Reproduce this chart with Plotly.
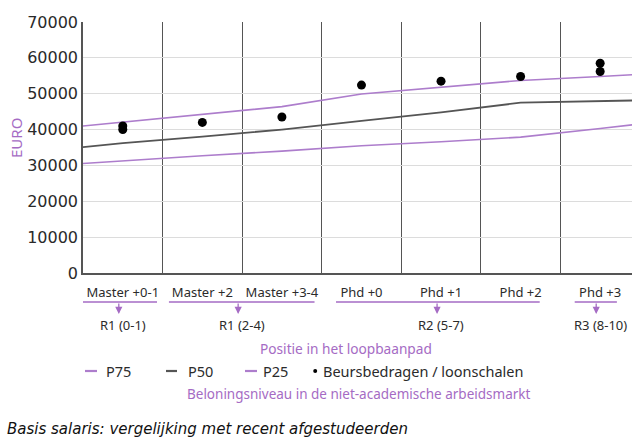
import plotly.graph_objects as go

# Career positions along the x axis
categories = ["Master +0-1", "Master +2", "Master +3-4", "Phd +0", "Phd +1", "Phd +2", "Phd +3"]

# Salary scale amounts (some positions have two amounts)
beurs_x = [0, 0, 1, 2, 3, 4, 5, 6, 6]
beurs_y = [41000, 40000, 42000, 43500, 52400, 53500, 54800, 58500, 56200]

# Non-academic market percentiles, from the left edge through each position to the right edge
line_x = [-0.5, 0, 1, 2, 3, 4, 5, 6, 6.5]
p75 = [41000, 42100, 44200, 46400, 49900, 51900, 53700, 54800, 55400]
p50 = [35100, 36200, 38050, 40000, 42400, 44800, 47500, 47950, 48150]
p25 = [30550, 31300, 32700, 34000, 35500, 36600, 37900, 40300, 41550]

y_ticks = [0, 10000, 20000, 30000, 40000, 50000, 60000, 70000]

# Grade groups under the position labels
groups = ["R1 (0-1)", "R1 (2-4)", "R2 (5-7)", "R3 (8-10)"]
group_center = [0, 1.5, 4, 6]
# underline extents (axis units)
group_span = [(-0.5, 0.43), (0.58, 2.41), (2.68, 5.24), (5.68, 6.21)]

PURPLE = "#a56bc4"
LINE_PURPLE = "#ad7dcc"
GREY = "#555555"
TXT = "#2b2b2b"
FONT = "Noto Sans"

fig = go.Figure()
fig.add_trace(go.Scatter(x=line_x, y=p75, mode="lines", name="P75",
                         line=dict(color=LINE_PURPLE, width=1.6)))
fig.add_trace(go.Scatter(x=line_x, y=p50, mode="lines", name="P50",
                         line=dict(color=GREY, width=1.8)))
fig.add_trace(go.Scatter(x=line_x, y=p25, mode="lines", name="P25",
                         line=dict(color=LINE_PURPLE, width=1.6)))
fig.add_trace(go.Scatter(x=beurs_x, y=beurs_y, mode="markers",
                         name="Beursbedragen / loonschalen",
                         marker=dict(color="black", size=9)))

H_PLOT = 439 - 22 - 166
W_PLOT = 632 - 83


def py(px):
    """pixel row (from top of page) -> paper y"""
    return (439 - 166 - px) / H_PLOT


def pxx(px):
    """pixel column -> paper x"""
    return (px - 83) / W_PLOT


annotations = []
shapes = []

# group underlines, arrows and grade labels
for name, c, (a, b) in zip(groups, group_center, group_span):
    shapes.append(dict(type="line", xref="x", yref="paper", x0=a, x1=b,
                       y0=py(302), y1=py(302), line=dict(color=PURPLE, width=1.6)))
    annotations.append(dict(x=c - 0.05, y=py(314), xref="x", yref="paper", text="",
                            showarrow=True, ax=0, ay=-12, arrowhead=2, arrowsize=1.1,
                            arrowwidth=1.3, arrowcolor=PURPLE))
    annotations.append(dict(x=c, y=py(325), xref="x", yref="paper", text=name,
                            showarrow=False, font=dict(family=FONT, size=13, color=TXT),
                            xanchor="center", yanchor="middle"))

annotations.append(dict(x=pxx(346), y=py(348), xref="paper", yref="paper",
                        text="Positie in het loopbaanpad", showarrow=False,
                        font=dict(family=FONT, size=13.7, color=PURPLE),
                        xanchor="center", yanchor="middle"))

# key row: short line swatches, a dot, and labels
key_lines = [(85, 97, LINE_PURPLE, "P75", 104), (166, 177, GREY, "P50", 186),
             (245, 257, LINE_PURPLE, "P25", 261)]
for x0, x1, col, label, tx in key_lines:
    shapes.append(dict(type="line", xref="paper", yref="paper", x0=pxx(x0), x1=pxx(x1),
                       y0=py(371), y1=py(371), line=dict(color=col, width=2.2)))
    annotations.append(dict(x=pxx(tx), y=py(371), xref="paper", yref="paper", text=label,
                            showarrow=False, font=dict(family=FONT, size=14.5, color=TXT),
                            xanchor="left", yanchor="middle"))
shapes.append(dict(type="circle", xref="paper", yref="paper",
                   x0=pxx(313.2), x1=pxx(317.2), y0=py(373), y1=py(369),
                   fillcolor="black", line=dict(width=0)))
annotations.append(dict(x=pxx(321), y=py(371), xref="paper", yref="paper",
                        text="Beursbedragen / loonschalen", showarrow=False,
                        font=dict(family=FONT, size=14.5, color=TXT),
                        xanchor="left", yanchor="middle"))

annotations.append(dict(x=pxx(358), y=py(394), xref="paper", yref="paper",
                        text="Beloningsniveau in de niet-academische arbeidsmarkt",
                        showarrow=False, font=dict(family=FONT, size=13.5, color=PURPLE),
                        xanchor="center", yanchor="middle"))

annotations.append(dict(x=pxx(5), y=py(429), xref="paper", yref="paper",
                        text="<i>Basis salaris: vergelijking met recent afgestudeerden</i>",
                        showarrow=False, font=dict(family="DejaVu Sans", size=15, color="#111111"),
                        xanchor="left", yanchor="middle"))

annotations.append(dict(x=pxx(16), y=py(138), xref="paper", yref="paper", text="EURO",
                        textangle=-90, showarrow=False,
                        font=dict(family=FONT, size=15, color=PURPLE),
                        xanchor="center", yanchor="middle"))

fig.update_layout(
    width=632, height=439,
    margin=dict(l=83, r=0, t=22, b=166),
    paper_bgcolor="white", plot_bgcolor="white",
    showlegend=False,
    annotations=annotations, shapes=shapes,
    xaxis=dict(range=[-0.5, 6.4], tickmode="array", tickvals=list(range(len(categories))),
               ticktext=categories, showgrid=False, zeroline=False,
               ticks="outside", ticklen=7, tickcolor="rgba(0,0,0,0)",
               tickfont=dict(family=FONT, size=13, color=TXT),
               showline=True, linecolor=GREY, linewidth=1.5,
               minor=dict(tickvals=[0.5, 1.5, 2.5, 3.5, 4.5, 5.5], showgrid=True,
                          gridcolor=GREY, gridwidth=1.4)),
    yaxis=dict(range=[0, 70000], tickvals=y_ticks, tickformat="d",
               showgrid=True, gridcolor="#dcdcdc", gridwidth=1.2, zeroline=False,
               showline=True, linecolor=GREY, linewidth=1.5,
               tickfont=dict(family="DejaVu Sans", size=16, color="#2a2a2a")),
)

fig.write_html("out.html")
